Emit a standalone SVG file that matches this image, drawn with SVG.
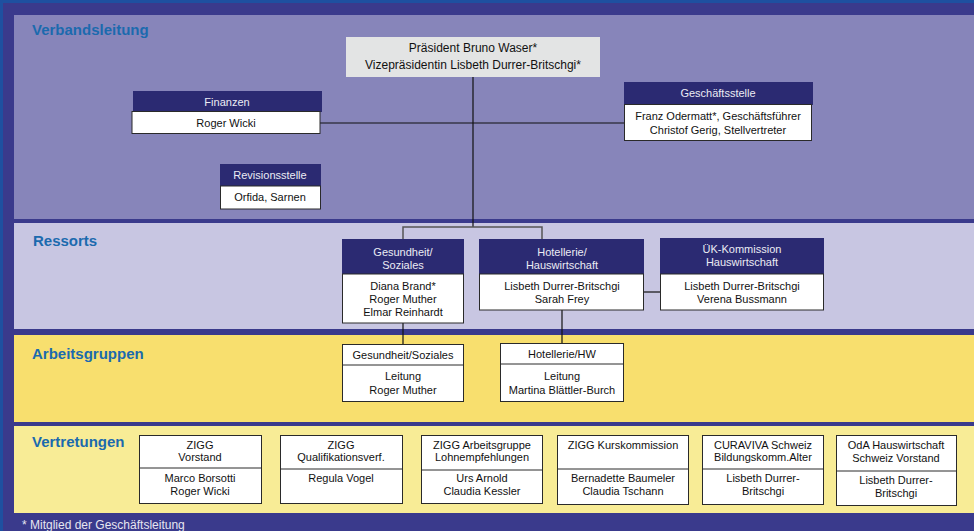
<svg xmlns="http://www.w3.org/2000/svg" width="974" height="531" viewBox="0 0 974 531">
<style>
text{font-family:"Liberation Sans",Arial,sans-serif;}
.sec{font-size:15px;font-weight:bold;fill:#1B6AAE;}
.hd{fill:#2B2A72;}
.ht{font-size:11px;fill:#ECECF4;text-anchor:middle;}
.bx{fill:#FFFFFF;stroke:#2a2a2a;stroke-width:1;}
.bt{font-size:11px;fill:#111;text-anchor:middle;}
.ln{fill:none;stroke:#111;stroke-width:1.2;}
.lg{fill:none;stroke:#555;stroke-width:1.5;}
</style>
<g id="background">
<rect x="0" y="0" width="974" height="531" fill="#3A3A8C"/>
<rect x="0" y="0" width="974" height="3" fill="#1E50A0"/>
<rect x="0" y="0" width="3" height="531" fill="#1E50A0"/>
<rect x="14" y="15" width="960" height="204" fill="#8785BA"/>
<rect x="14" y="223" width="960" height="106" fill="#C8C6E2"/>
<rect x="14" y="335" width="960" height="87" fill="#F8DF6E"/>
<rect x="14" y="426" width="960" height="87" fill="#F8EC96"/>
<text class="sec" x="32" y="35">Verbandsleitung</text>
<text class="sec" x="33" y="246">Ressorts</text>
<text class="sec" x="32" y="359">Arbeitsgruppen</text>
<text class="sec" x="32" y="447">Vertretungen</text>
<text x="22" y="529" font-size="12" fill="#E6E6F0">* Mitglied der Geschäftsleitung</text>
</g>
<g id="connectors">
<path class="ln" d="M473,77 V227"/>
<path class="ln" d="M320,123 H624"/>
<path class="lg" d="M403,239 V227 H542 V239"/>
<path class="ln" d="M403,323 V344"/>
<path class="ln" d="M562,310 V343"/>
<path class="ln" d="M644,292 H660"/>
</g>
<g id="praesident">
<rect x="346" y="37" width="254" height="40" fill="#E3E4E4"/>
<text x="473" y="52" font-size="12" fill="#111" text-anchor="middle">Präsident Bruno Waser*</text>
<text x="473" y="69" font-size="12" fill="#111" text-anchor="middle">Vizepräsidentin Lisbeth Durrer-Britschgi*</text>
</g>
<g id="finanzen">
<rect class="hd" x="133" y="91" width="189" height="21"/>
<text class="ht" x="227" y="106" font-size="12">Finanzen</text>
<rect class="bx" x="132" y="111.5" width="188" height="22"/>
<text class="bt" x="226" y="127" font-size="11.5">Roger Wicki</text>
</g>
<g id="revisionsstelle">
<rect class="hd" x="220" y="164" width="101" height="22"/>
<text class="ht" x="270" y="179">Revisionsstelle</text>
<rect class="bx" x="220.5" y="186" width="100" height="23"/>
<text class="bt" x="270" y="201">Orfida, Sarnen</text>
</g>
<g id="geschaeftsstelle">
<rect class="hd" x="624" y="82" width="189" height="23"/>
<text class="ht" x="718" y="97">Geschäftsstelle</text>
<rect class="bx" x="624.5" y="104.5" width="187" height="36"/>
<text class="bt" x="718" y="120">Franz Odermatt*, Geschäftsführer</text>
<text class="bt" x="718" y="134">Christof Gerig, Stellvertreter</text>
</g>
<g id="ressort-gesundheit">
<rect class="hd" x="342" y="239" width="122" height="35"/>
<text class="ht" x="403" y="256">Gesundheit/</text>
<text class="ht" x="403" y="269">Soziales</text>
<rect class="bx" x="342.5" y="274" width="121" height="49"/>
<text class="bt" x="403" y="290">Diana Brand*</text>
<text class="bt" x="403" y="303">Roger Muther</text>
<text class="bt" x="403" y="316">Elmar Reinhardt</text>
</g>
<g id="ressort-hotellerie">
<rect class="hd" x="479" y="239" width="165" height="35"/>
<text class="ht" x="562" y="256">Hotellerie/</text>
<text class="ht" x="562" y="269">Hauswirtschaft</text>
<rect class="bx" x="479.5" y="274" width="164" height="36"/>
<text class="bt" x="562" y="290">Lisbeth Durrer-Britschgi</text>
<text class="bt" x="562" y="303">Sarah Frey</text>
</g>
<g id="ressort-uek">
<rect class="hd" x="660" y="238" width="164" height="36"/>
<text class="ht" x="742" y="253">ÜK-Kommission</text>
<text class="ht" x="742" y="266">Hauswirtschaft</text>
<rect class="bx" x="660.5" y="274" width="163" height="36"/>
<text class="bt" x="742" y="290">Lisbeth Durrer-Britschgi</text>
<text class="bt" x="742" y="303">Verena Bussmann</text>
</g>
<g id="ag-gesundheit">
<rect class="bx" x="342.5" y="344.5" width="121" height="57"/>
<line x1="342.5" y1="365" x2="463.5" y2="365" stroke="#2a2a2a"/>
<text class="bt" x="403" y="359" font-size="10.5">Gesundheit/Soziales</text>
<text class="bt" x="403" y="380">Leitung</text>
<text class="bt" x="403" y="394">Roger Muther</text>
</g>
<g id="ag-hotellerie">
<rect class="bx" x="500.5" y="343.5" width="123" height="58"/>
<line x1="500.5" y1="364" x2="623.5" y2="364" stroke="#2a2a2a"/>
<text class="bt" x="562" y="358">Hotellerie/HW</text>
<text class="bt" x="562" y="380">Leitung</text>
<text class="bt" x="562" y="394" font-size="10.3">Martina Blättler-Burch</text>
</g>
<g id="v-zigg-vorstand">
<rect class="bx" x="139.5" y="435.5" width="122" height="68"/>
<line x1="139.5" y1="468" x2="261.5" y2="468" stroke="#2a2a2a"/>
<text class="bt" x="200" y="449">ZIGG</text>
<text class="bt" x="200" y="461">Vorstand</text>
<text class="bt" x="200" y="482">Marco Borsotti</text>
<text class="bt" x="200" y="495">Roger Wicki</text>
</g>
<g id="v-zigg-qv">
<rect class="bx" x="280.5" y="435.5" width="122" height="68"/>
<line x1="280.5" y1="469" x2="402.5" y2="469" stroke="#2a2a2a"/>
<text class="bt" x="341" y="449">ZIGG</text>
<text class="bt" x="341" y="461">Qualifikationsverf.</text>
<text class="bt" x="341" y="482">Regula Vogel</text>
</g>
<g id="v-zigg-ag">
<rect class="bx" x="421.5" y="435.5" width="121" height="68"/>
<line x1="421.5" y1="470" x2="542.5" y2="470" stroke="#2a2a2a"/>
<text class="bt" x="482" y="449">ZIGG Arbeitsgruppe</text>
<text class="bt" x="482" y="461">Lohnempfehlungen</text>
<text class="bt" x="482" y="482">Urs Arnold</text>
<text class="bt" x="482" y="495">Claudia Kessler</text>
</g>
<g id="v-zigg-kurs">
<rect class="bx" x="557.5" y="435.5" width="131" height="69"/>
<line x1="557.5" y1="469" x2="688.5" y2="469" stroke="#2a2a2a"/>
<text class="bt" x="623" y="449">ZIGG Kurskommission</text>
<text class="bt" x="623" y="482">Bernadette Baumeler</text>
<text class="bt" x="623" y="495">Claudia Tschann</text>
</g>
<g id="v-curaviva">
<rect class="bx" x="702.5" y="435.5" width="121" height="69"/>
<line x1="702.5" y1="469" x2="823.5" y2="469" stroke="#2a2a2a"/>
<text class="bt" x="763" y="449">CURAVIVA Schweiz</text>
<text class="bt" x="763" y="461">Bildungskomm.Alter</text>
<text class="bt" x="763" y="482">Lisbeth Durrer-</text>
<text class="bt" x="763" y="495">Britschgi</text>
</g>
<g id="v-oda">
<rect class="bx" x="836.5" y="435.5" width="120" height="70"/>
<line x1="836.5" y1="471" x2="956.5" y2="471" stroke="#2a2a2a"/>
<text class="bt" x="896" y="449">OdA Hauswirtschaft</text>
<text class="bt" x="896" y="462">Schweiz Vorstand</text>
<text class="bt" x="896" y="484">Lisbeth Durrer-</text>
<text class="bt" x="896" y="497">Britschgi</text>
</g>
</svg>
